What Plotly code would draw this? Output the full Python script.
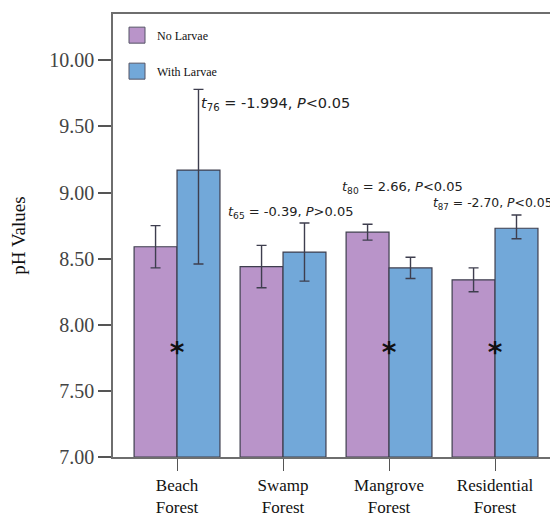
import plotly.graph_objects as go

categories = ["Beach<br>Forest", "Swamp<br>Forest", "Mangrove<br>Forest", "Residential<br>Forest"]
no_larvae = [8.59, 8.44, 8.70, 8.34]
no_larvae_err_up = [0.16, 0.16, 0.06, 0.09]
no_larvae_err_down = [0.16, 0.16, 0.06, 0.09]
with_larvae = [9.17, 8.55, 8.43, 8.73]
with_larvae_err_up = [0.61, 0.22, 0.08, 0.10]
with_larvae_err_down = [0.71, 0.22, 0.08, 0.08]
star_cats = ["Beach<br>Forest", "Mangrove<br>Forest", "Residential<br>Forest"]
star_y = [7.77, 7.77, 7.77]
stat_labels = [
    "<i>t</i><sub>76</sub> = -1.994, <i>P</i>&lt;0.05",
    "<i>t</i><sub>65</sub> = -0.39, <i>P</i>&gt;0.05",
    "<i>t</i><sub>80</sub> = 2.66, <i>P</i>&lt;0.05",
    "<i>t</i><sub>87</sub> = -2.70, <i>P</i>&lt;0.05",
]
stat_x = [0.21, 0.46, 1.54, 2.40]
stat_y = [9.67, 8.85, 9.04, 8.92]
stat_size = [14.5, 13, 13, 12.4]
yticks = [7.0, 7.5, 8.0, 8.5, 9.0, 9.5, 10.0]

PURPLE = "#B994C9"
BLUE = "#72A8D9"
EDGE = "#3E3E4E"

fig = go.Figure()
fig.add_trace(go.Bar(
    x=categories, y=[v - 7 for v in no_larvae], base=7, name="No Larvae",
    marker=dict(color=PURPLE, line=dict(color=EDGE, width=1.2)),
    error_y=dict(type="data", array=no_larvae_err_up, arrayminus=no_larvae_err_down,
                 color=EDGE, thickness=1.4, width=5),
    showlegend=False,
))
fig.add_trace(go.Bar(
    x=categories, y=[v - 7 for v in with_larvae], base=7, name="With Larvae",
    marker=dict(color=BLUE, line=dict(color=EDGE, width=1.2)),
    error_y=dict(type="data", array=with_larvae_err_up, arrayminus=with_larvae_err_down,
                 color=EDGE, thickness=1.4, width=5),
    showlegend=False,
))
# legend proxies
for name, col, grp in [("No Larvae", PURPLE, "a"), ("With Larvae", BLUE, "b")]:
    fig.add_trace(go.Scatter(
        x=[None], y=[None], mode="markers", name=name, legendgroup=grp,
        marker=dict(symbol="square", size=16, color=col, line=dict(color="#555566", width=1)),
    ))
fig.add_trace(go.Scatter(
    x=star_cats, y=star_y, mode="text", text=["<b>*</b>"] * 3,
    textfont=dict(family="DejaVu Sans", size=28, color="#111111"),
    textposition="middle center", showlegend=False, hoverinfo="skip",
))

for t, x, y, s in zip(stat_labels, stat_x, stat_y, stat_size):
    fig.add_annotation(x=x, y=y, xref="x", yref="y", text=t, showarrow=False,
                       xanchor="left", yanchor="middle",
                       font=dict(family="DejaVu Sans", size=s, color="#222222"))

fig.update_layout(
    width=550, height=510,
    margin=dict(l=105, r=0, t=6, b=61),
    paper_bgcolor="white", plot_bgcolor="white",
    barmode="group", bargap=0.19, bargroupgap=0,
    font=dict(family="Liberation Serif", color="#222222"),
    legend=dict(x=0.009, y=0.985, xanchor="left", yanchor="top",
                font=dict(family="Liberation Serif", size=12, color="#111111"),
                tracegroupgap=17, bgcolor="rgba(0,0,0,0)"),
)
fig.update_xaxes(
    type="category", range=[-0.604, 3.594],
    showline=True, linecolor="#6E6E6E", linewidth=1.5, mirror=True,
    ticks="outside", ticklen=12, tickcolor="#555555", tickwidth=1.3,
    tickfont=dict(family="Liberation Serif", size=17, color="#111111"),
    showgrid=False, zeroline=False,
)
fig.update_yaxes(
    range=[7.0, 10.35], tickvals=yticks, ticktext=[f"{v:.2f}" for v in yticks],
    showline=True, linecolor="#6E6E6E", linewidth=1.5,
    ticks="outside", ticklen=13, tickcolor="#555555", tickwidth=1.5,
    tickfont=dict(family="Liberation Serif", size=20, color="#444444"),
    showgrid=False, zeroline=False,
    title=dict(text="pH Values", font=dict(family="Liberation Serif", size=19, color="#111111"), standoff=24),
)
fig.write_html("out.html")
